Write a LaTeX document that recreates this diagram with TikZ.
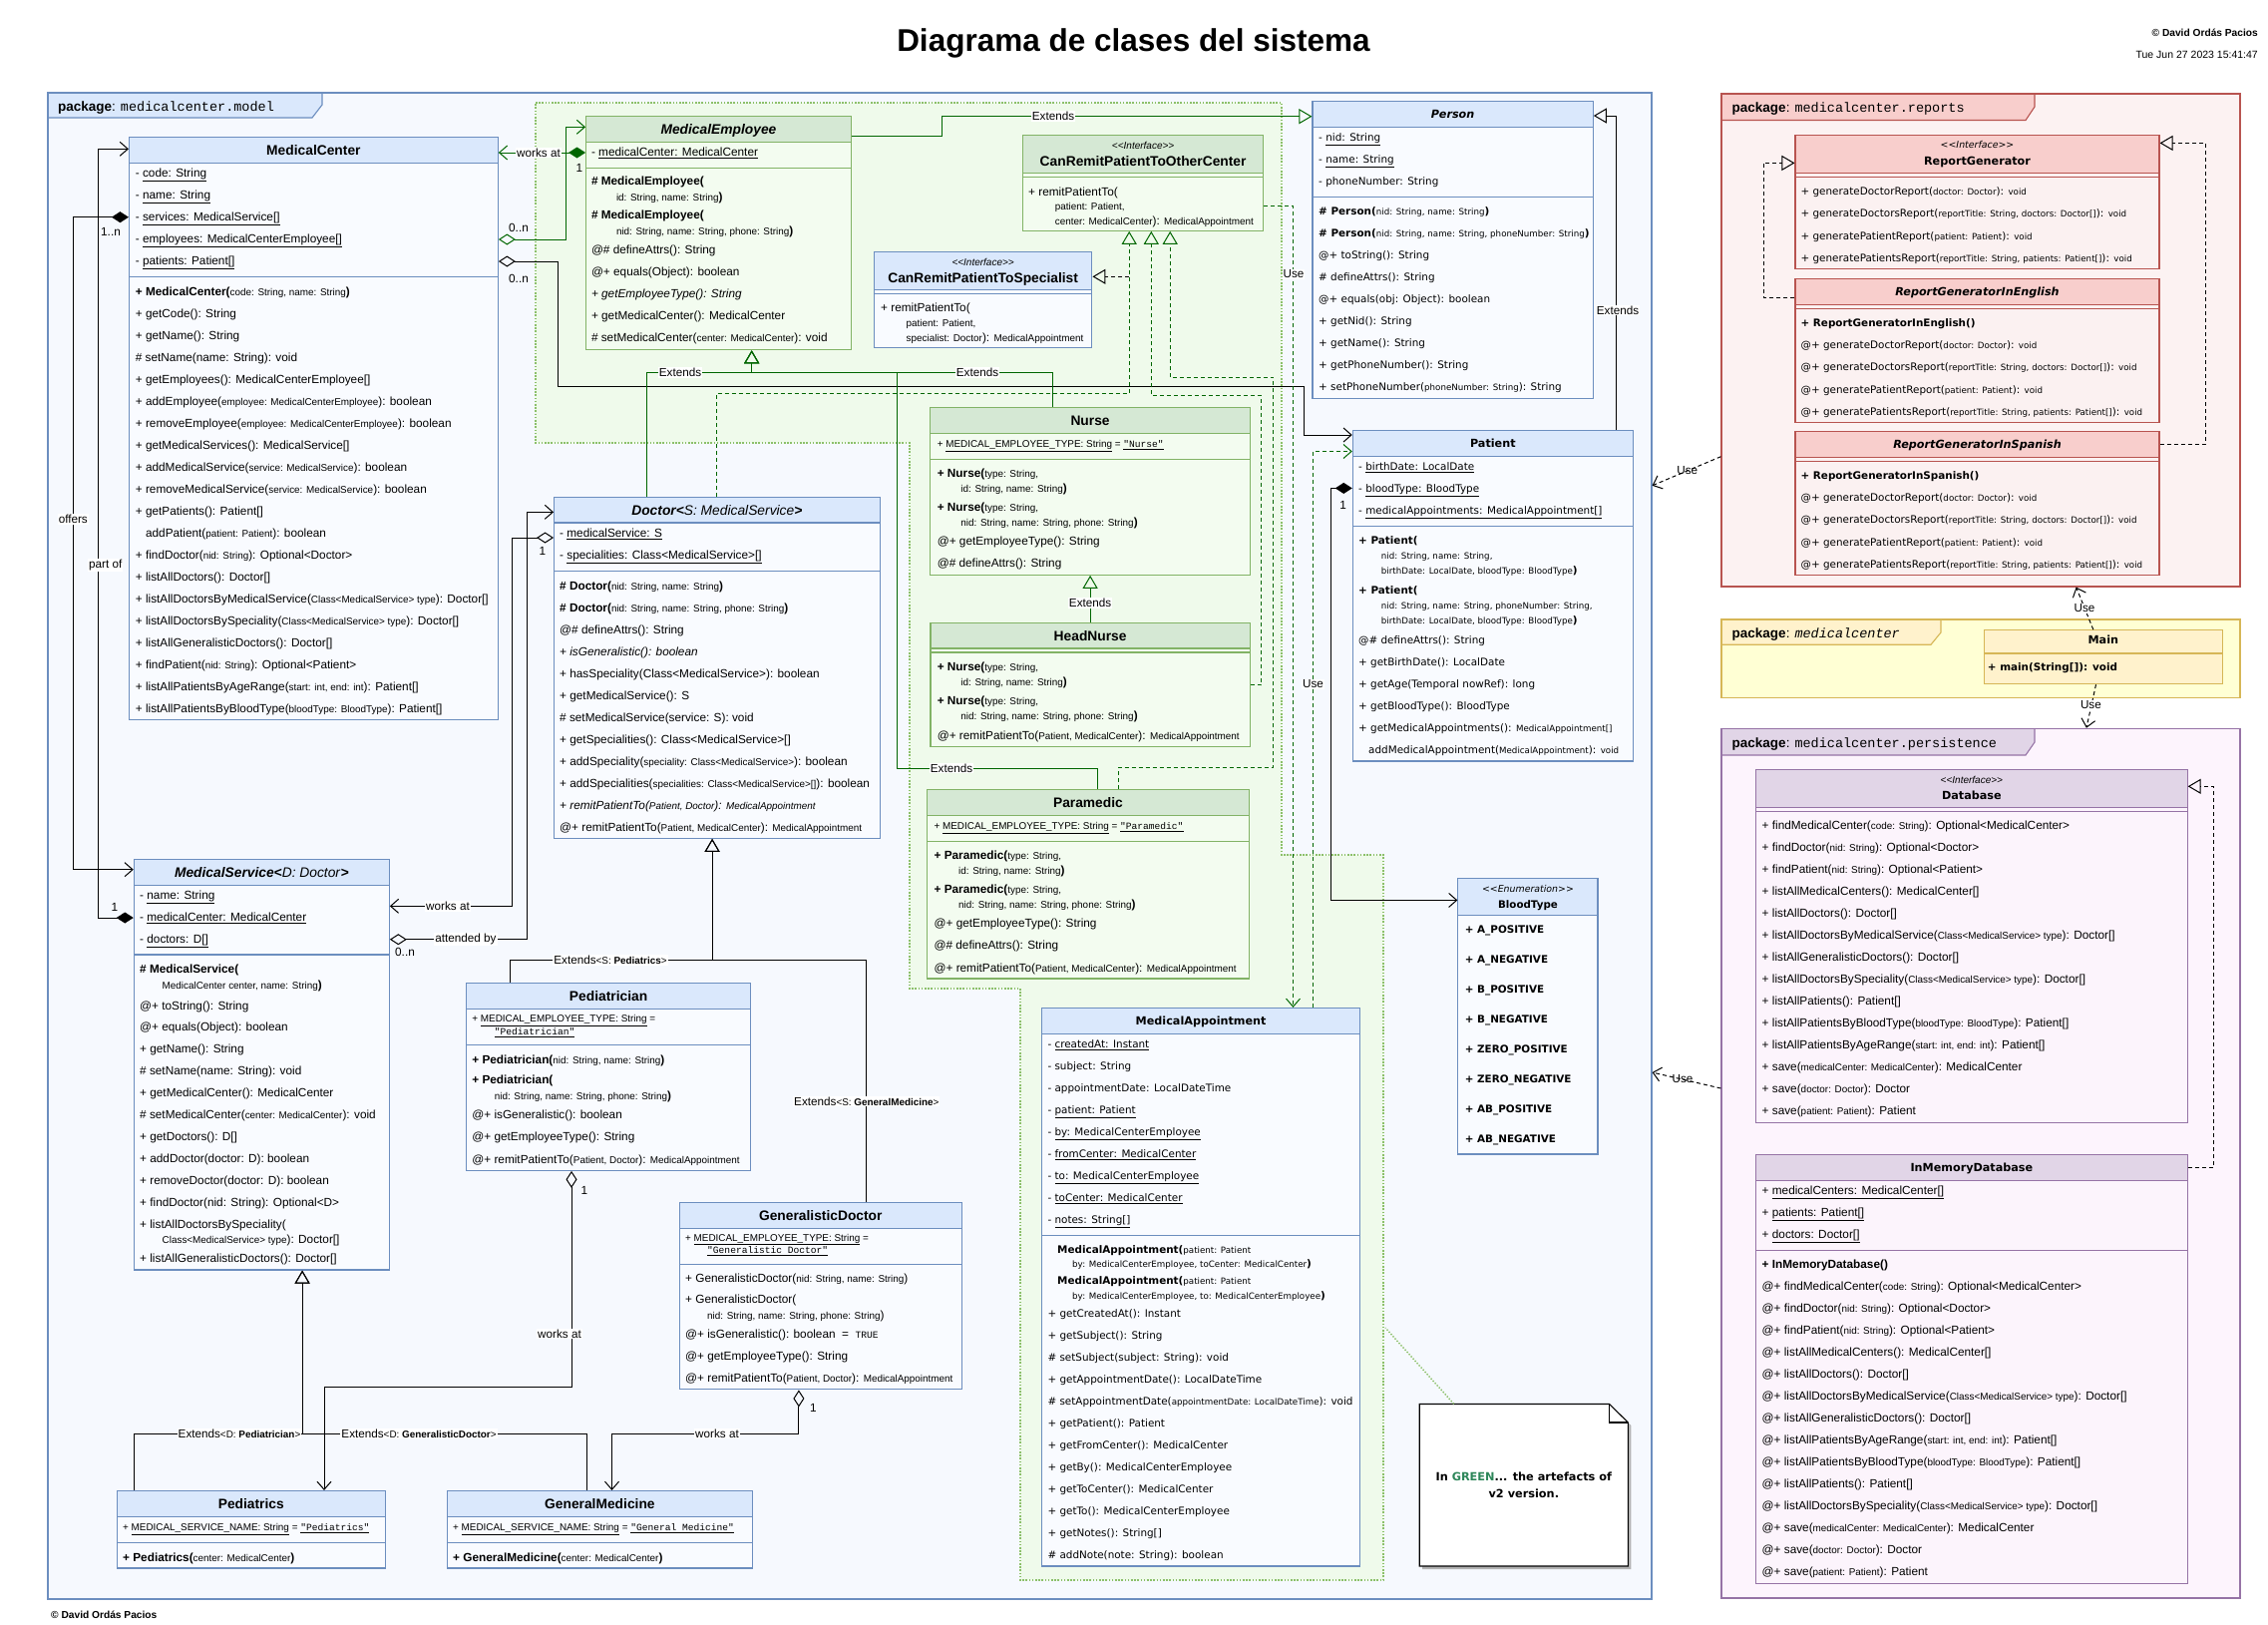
\documentclass[tikz,border=0pt]{standalone}
\usepackage{fontspec}
\setmainfont{Liberation Sans}
\setmonofont{Liberation Mono}
\newfontfamily\vfont{DejaVu Sans}
\usetikzlibrary{arrows.meta,fit}
\definecolor{bHead}{HTML}{DAE8FC}
\definecolor{bBody}{HTML}{F9FBFF}
\definecolor{bLine}{HTML}{6C8EBF}
\definecolor{gHead}{HTML}{D5E8D4}
\definecolor{gBody}{HTML}{F3FCF0}
\definecolor{gLine}{HTML}{82B366}
\definecolor{gArea}{HTML}{EFFAEB}
\definecolor{gDot}{HTML}{8CC06A}
\definecolor{rHead}{HTML}{F8CECC}
\definecolor{rBody}{HTML}{FBF1F1}
\definecolor{rLine}{HTML}{B85450}
\definecolor{rArea}{HTML}{FCF2F2}
\definecolor{yHead}{HTML}{FFF2CC}
\definecolor{yBody}{HTML}{FFF2CC}
\definecolor{yLine}{HTML}{D6B656}
\definecolor{yArea}{HTML}{FFFFD4}
\definecolor{pHead}{HTML}{E1D5E7}
\definecolor{pBody}{HTML}{FCF4FC}
\definecolor{pLine}{HTML}{9673A6}
\definecolor{pArea}{HTML}{FDF4FD}
\definecolor{mArea}{HTML}{F6F9FE}
\definecolor{dkg}{HTML}{006600}
\definecolor{noteg}{HTML}{2D8659}
\newcommand\sm[1]{{\fontsize{9.9}{11}\selectfont #1}}
\newcommand\sv[1]{{\fontsize{8.7}{10}\selectfont #1}}
\newcommand\mono[1]{{\fontsize{9.6}{11}\selectfont\ttfamily #1}}
\newcommand\lt{<{}<}
\newcommand\gt{>{}>}
\newcommand\rows[4][rw]{\foreach \yy/\txt [count=\i] in {#4}{\node[#1] (#2-\i) at (#3,\yy+4) {\txt};}}
\newcommand\srows[6][rw]{\foreach \txt [count=\i] in {#6}{\node[#1] (#2-\i) at (#3,{#4+#5*(\i-1)+4}) {\txt};}}
\newcommand\cls[7]{%
  \fill[#2Body] (#3,#4) rectangle (#5,#6);
  \fill[#2Head] (#3,#4) rectangle (#5,#7);
  \draw[#2Line,line width=1.1pt] (#3,#7) -- (#5,#7);
  \node[fit={(#3,#4) (#5,#6)},inner sep=0pt,draw=#2Line,line width=1.1pt] (#1) {};}
\newcommand\csep[3]{\draw[#2Line,line width=1.1pt] (#1.west |- 0,#3) -- (#1.east |- 0,#3);}
\begin{document}
\begin{tikzpicture}[x=1pt,y=-1pt,
  rw/.style={anchor=base west,inner sep=0pt,font=\fontsize{11.8}{14}\selectfont},
  rv/.style={anchor=base west,inner sep=0pt,font=\vfont\fontsize{10.4}{12}\selectfont},
  tt/.style={anchor=base,inner sep=0pt,font=\bfseries\fontsize{13.8}{16}\selectfont},
  ttv/.style={anchor=base,inner sep=0pt,font=\vfont\bfseries\fontsize{11.2}{13}\selectfont},
  st/.style={anchor=base,inner sep=0pt,font=\itshape\fontsize{10}{12}\selectfont},
  stv/.style={anchor=base,inner sep=0pt,font=\vfont\itshape\fontsize{9.4}{11}\selectfont},
  pk/.style={anchor=base west,inner sep=0pt,font=\fontsize{13.5}{15}\selectfont},
  lbl/.style={fill=white,inner sep=1pt,font=\fontsize{11.7}{13}\selectfont},
  ml/.style={inner sep=0pt,font=\fontsize{11.8}{13}\selectfont},
  bcn/.style={draw=black,line width=1pt},
  gcn/.style={draw=dkg,line width=1pt},
  dsh/.style={dash pattern=on 4pt off 3pt},
  opn/.style={-{Straight Barb[length=8pt,width=14pt]}},
  tri/.style={-{Triangle[open,length=13pt,width=15pt]}},
  cmpo/.style={{Diamond[length=17pt,width=11pt]}-{Straight Barb[length=8pt,width=14pt]}},
  agro/.style={{Diamond[open,length=17pt,width=11pt]}-{Straight Barb[length=8pt,width=14pt]}}]
\useasboundingbox (0,0) rectangle (2274,1628);
\fill[white] (0,0) rectangle (2274,1628);
% ---------------- title
\node[anchor=base,inner sep=0pt,font=\bfseries\fontsize{31.5}{36}\selectfont] (title) at (1136.5,51) {Diagrama de clases del sistema};
\node[anchor=base east,inner sep=0pt,font=\bfseries\fontsize{10.2}{12}\selectfont] (copyA) at (2264,36) {© David Ordás Pacios};
\node[anchor=base east,inner sep=0pt,font=\fontsize{10.5}{12}\selectfont] (date) at (2264,58) {Tue Jun 27 2023 15:41:47};
\node[anchor=base west,inner sep=0pt,font=\bfseries\fontsize{10.2}{12}\selectfont] (copyB) at (51,1622.5) {© David Ordás Pacios};
% ---------------- packages
\fill[mArea] (48,93) rectangle (1656,1603);
\fill[bHead] (48,93) -- (323,93) -- (323,105) -- (313,118) -- (48,118) -- cycle;
\draw[bLine,line width=1.1pt] (48,118) -- (313,118) -- (323,105) -- (323,93);
\node[fit={(48,93) (1656,1603)},inner sep=0pt,draw=bLine,line width=1.1pt] (pmodel) {};
\node[pk] (pmodel-t) at (58,111.5) {\textbf{package}: \texttt{medicalcenter.model}};
\fill[gArea] (537,103) -- (1285,103) -- (1285,857) -- (1387,857) -- (1387,1584) -- (1023,1584) -- (1023,991) -- (912,991) -- (912,444) -- (537,444) -- cycle;
\draw[gDot,line width=1.6pt,dash pattern=on 1.6pt off 1.6pt] (537,103) -- (1285,103) -- (1285,857) -- (1387,857) -- (1387,1584) -- (1023,1584) -- (1023,991) -- (912,991) -- (912,444) -- (537,444) -- cycle;
\fill[rArea] (1726,94) rectangle (2246,588);
\fill[rHead] (1726,94) -- (2040,94) -- (2040,107) -- (2031,120.5) -- (1726,120.5) -- cycle;
\draw[rLine,line width=1.1pt] (1726,120.5) -- (2031,120.5) -- (2040,107) -- (2040,94);
\node[fit={(1726,94) (2246,588)},inner sep=0pt,draw=rLine,line width=1.1pt] (prep) {};
\node[pk] (prep-t) at (1736.5,112) {\textbf{package}: \texttt{medicalcenter.reports}};
\fill[yArea] (1726,621) rectangle (2246,699.3);
\fill[yHead] (1726,621) -- (1946,621) -- (1946,634) -- (1936,646.2) -- (1726,646.2) -- cycle;
\draw[yLine,line width=1.1pt] (1726,646.2) -- (1936,646.2) -- (1946,634) -- (1946,621);
\node[fit={(1726,621) (2246,699.3)},inner sep=0pt,draw=yLine,line width=1.1pt] (pmain) {};
\node[pk] (pmain-t) at (1736.5,639.5) {\textbf{package}: \texttt{\textit{medicalcenter}}};
\fill[pArea] (1726,730.3) rectangle (2246,1602);
\fill[pHead] (1726,730.3) -- (2040,730.3) -- (2040,744) -- (2031,757) -- (1726,757) -- cycle;
\draw[pLine,line width=1.1pt] (1726,757) -- (2031,757) -- (2040,744) -- (2040,730.3);
\node[fit={(1726,730.3) (2246,1602)},inner sep=0pt,draw=pLine,line width=1.1pt] (ppers) {};
\node[pk] (ppers-t) at (1736.5,749.7) {\textbf{package}: \texttt{medicalcenter.persistence}};
% ---------------- MedicalCenter
\cls{mc}{b}{129.5}{137.5}{499.3}{721.3}{163.3}
\csep{mc}{b}{277.3}
\node[tt] (mc-t) at (mc.north |- 0,155) {MedicalCenter};
\srows{mc-a}{135.7}{173.7}{22}{{- \underline{code: String}},{- \underline{name: String}},{- \underline{services: MedicalService[]}},{- \underline{employees: MedicalCenterEmployee[]}},{- \underline{patients: Patient[]}}}
\srows{mc-m}{135.7}{292}{22}{{\textbf{+ MedicalCenter(}\sm{code: String, name: String}\textbf{)}},{+ getCode(): String},{+ getName(): String},{\# setName(name: String): void},{+ getEmployees(): MedicalCenterEmployee[]},{+ addEmployee(\sm{employee: MedicalCenterEmployee}): boolean},{+ removeEmployee(\sm{employee: MedicalCenterEmployee}): boolean},{+ getMedicalServices(): MedicalService[]},{+ addMedicalService(\sm{service: MedicalService}): boolean},{+ removeMedicalService(\sm{service: MedicalService}): boolean},{+ getPatients(): Patient[]},{\phantom{+ }addPatient(\sm{patient: Patient}): boolean},{+ findDoctor(\sm{nid: String}): Optional<Doctor>},{+ listAllDoctors(): Doctor[]},{+ listAllDoctorsByMedicalService(\sm{Class<MedicalService> type}): Doctor[]},{+ listAllDoctorsBySpeciality(\sm{Class<MedicalService> type}): Doctor[]},{+ listAllGeneralisticDoctors(): Doctor[]},{+ findPatient(\sm{nid: String}): Optional<Patient>},{+ listAllPatientsByAgeRange(\sm{start: int, end: int}): Patient[]},{+ listAllPatientsByBloodType(\sm{bloodType: BloodType}): Patient[]}}
% ---------------- MedicalService
\cls{ms}{b}{134.3}{861.7}{390.3}{1273}{887.7}
\csep{ms}{b}{957}
\node[tt] (ms-t) at (ms.north |- 0,879.7) {\textit{MedicalService<}\textmd{\textit{D: Doctor}}\textit{>}};
\srows{ms-a}{140}{897.7}{22}{{- \underline{name: String}},{- \underline{medicalCenter: MedicalCenter}},{- \underline{doctors: D[]}}}
\rows{ms-c}{140}{971.7/{\textbf{\# MedicalService(}},1227/{+ listAllDoctorsBySpeciality(},1261.4/{+ listAllGeneralisticDoctors(): Doctor[]}}
\rows{ms-p}{162.5}{987.3/{\sm{MedicalCenter center, name: String}\textbf{)}},1242.5/{\sm{Class<MedicalService> type}): Doctor[]}}
\srows{ms-m}{140}{1008}{21.93}{{@+ toString(): String},{@+ equals(Object): boolean},{+ getName(): String},{\# setName(name: String): void},{+ getMedicalCenter(): MedicalCenter},{\# setMedicalCenter(\sm{center: MedicalCenter}): void},{+ getDoctors(): D[]},{+ addDoctor(doctor: D): boolean},{+ removeDoctor(doctor: D): boolean},{+ findDoctor(nid: String): Optional<D>}}
% ---------------- MedicalEmployee
\cls{me}{g}{587.6}{116.7}{853.3}{350.7}{142.3}
\csep{me}{g}{168.3}
\node[tt] (me-t) at (me.north |- 0,134.5) {\textit{MedicalEmployee}};
\rows{me-a}{592.8}{152.7/{- \underline{medicalCenter: MedicalCenter}}}
\rows{me-c}{592.8}{181.7/{\textbf{\# MedicalEmployee(}},215.7/{\textbf{\# MedicalEmployee(}}}
\rows{me-p}{617.8}{197.3/{\sm{id: String, name: String}\textbf{)}},231.7/{\sm{nid: String, name: String, phone: String}\textbf{)}}}
\srows{me-m}{592.8}{250.7}{22}{{@\# defineAttrs(): String},{@+ equals(Object): boolean},{\textit{+ getEmployeeType(): String}},{+ getMedicalCenter(): MedicalCenter},{\# setMedicalCenter(\sm{center: MedicalCenter}): void}}
% ---------------- CanRemitPatientToOtherCenter
\cls{oth}{g}{1025.5}{135.7}{1266.7}{231.3}{173.3}
\csep{oth}{g}{177.3}
\node[st] (oth-s) at (oth.north |- 0,149.3) {\lt Interface\gt};
\node[tt] (oth-t) at (oth.north |- 0,166) {CanRemitPatientToOtherCenter};
\rows{oth-m}{1031}{192/{+ remitPatientTo(}}
\rows{oth-p}{1057.6}{206.7/{\sm{patient: Patient,}},221.7/{\sm{center: MedicalCenter}): \sm{MedicalAppointment}}}
% ---------------- CanRemitPatientToSpecialist
\cls{spec}{b}{876.4}{252.7}{1094.9}{348.3}{290.7}
\csep{spec}{b}{294.3}
\node[st] (spec-s) at (spec.north |- 0,266) {\lt Interface\gt};
\node[tt] (spec-t) at (spec.north |- 0,283) {CanRemitPatientToSpecialist};
\rows{spec-m}{883}{308.3/{+ remitPatientTo(}}
\rows{spec-p}{908.5}{323.7/{\sm{patient: Patient,}},338.7/{\sm{specialist: Doctor}): \sm{MedicalAppointment}}}
% ---------------- Doctor
\cls{doc}{b}{555.6}{498.7}{882.1}{840.3}{524}
\csep{doc}{b}{572.3}
\node[tt] (doc-t) at (doc.north |- 0,516.3) {\textit{Doctor<}\textmd{\textit{S: MedicalService}}\textit{>}};
\srows{doc-a}{561}{534.7}{22}{{- \underline{medicalService: S}},{- \underline{specialities: Class<MedicalService>[]}}}
\srows{doc-m}{561}{587.3}{22}{{\textbf{\# Doctor(}\sm{nid: String, name: String}\textbf{)}},{\textbf{\# Doctor(}\sm{nid: String, name: String, phone: String}\textbf{)}},{@\# defineAttrs(): String},{\textit{+ isGeneralistic(): boolean}},{+ hasSpeciality(Class<MedicalService>): boolean},{+ getMedicalService(): S},{\# setMedicalService(service: S): void},{+ getSpecialities(): Class<MedicalService>[]},{+ addSpeciality(\sm{speciality: Class<MedicalService>}): boolean},{+ addSpecialities(\sm{specialities: Class<MedicalService>[]}): boolean},{\textit{+ remitPatientTo(\sm{Patient, Doctor}): \sm{MedicalAppointment}}},{@+ remitPatientTo(\sm{Patient, MedicalCenter}): \sm{MedicalAppointment}}}
% ---------------- Nurse
\cls{nurse}{g}{932.6}{408.3}{1253.5}{576.3}{434.3}
\csep{nurse}{g}{460.3}
\node[tt] (nurse-t) at (nurse.north |- 0,426) {Nurse};
\rows{nurse-a}{939.6}{444.7/{\sm{+ \underline{MEDICAL\_EMPLOYEE\_TYPE: String} = }\underline{\mono{"Nurse"}}}}
\rows{nurse-c}{939.6}{474/{\textbf{+ Nurse(}\sm{type: String,}},508.3/{\textbf{+ Nurse(}\sm{type: String,}},542.7/{@+ getEmployeeType(): String},564.7/{@\# defineAttrs(): String}}
\rows{nurse-p}{963.2}{489.3/{\sm{id: String, name: String}\textbf{)}},523.7/{\sm{nid: String, name: String, phone: String}\textbf{)}}}
% ---------------- HeadNurse
\cls{hn}{g}{933}{624.7}{1253.3}{748.3}{650}
\csep{hn}{g}{654}
\node[tt] (hn-t) at (hn.north |- 0,642) {HeadNurse};
\rows{hn-c}{939.6}{668.3/{\textbf{+ Nurse(}\sm{type: String,}},702.3/{\textbf{+ Nurse(}\sm{type: String,}},737.3/{@+ remitPatientTo(\sm{Patient, MedicalCenter}): \sm{MedicalAppointment}}}
\rows{hn-p}{963.2}{683.3/{\sm{id: String, name: String}\textbf{)}},717.7/{\sm{nid: String, name: String, phone: String}\textbf{)}}}
% ---------------- Paramedic
\cls{para}{g}{929.8}{791.7}{1252.1}{981}{817.3}
\csep{para}{g}{843.3}
\node[tt] (para-t) at (para.north |- 0,809) {Paramedic};
\rows{para-a}{936.4}{827.7/{\sm{+ \underline{MEDICAL\_EMPLOYEE\_TYPE: String} = }\underline{\mono{"Paramedic"}}}}
\rows{para-c}{936.4}{857/{\textbf{+ Paramedic(}\sm{type: String,}},891/{\textbf{+ Paramedic(}\sm{type: String,}},925.7/{@+ getEmployeeType(): String},947.7/{@\# defineAttrs(): String},970/{@+ remitPatientTo(\sm{Patient, MedicalCenter}): \sm{MedicalAppointment}}}
\rows{para-p}{961}{872.3/{\sm{id: String, name: String}\textbf{)}},906.3/{\sm{nid: String, name: String, phone: String}\textbf{)}}}
% ---------------- Pediatrician
\cls{ped}{b}{467.6}{985.5}{752.6}{1173.3}{1011.2}
\csep{ped}{b}{1047.6}
\node[tt] (ped-t) at (ped.north |- 0,1003) {Pediatrician};
\rows{ped-a}{473.2}{1020.6/{\sm{+ \underline{MEDICAL\_EMPLOYEE\_TYPE: String} =}}}
\rows{ped-b}{495.6}{1033.3/{\underline{\mono{"Pediatrician"}}}}
\rows{ped-c}{473.2}{1062.2/{\textbf{+ Pediatrician(}\sm{nid: String, name: String}\textbf{)}},1082.7/{\textbf{+ Pediatrician(}},1117.8/{@+ isGeneralistic(): boolean},1139.8/{@+ getEmployeeType(): String},1162.2/{@+ remitPatientTo(\sm{Patient, Doctor}): \sm{MedicalAppointment}}}
\rows{ped-p}{495.6}{1098.6/{\sm{nid: String, name: String, phone: String}\textbf{)}}}
% ---------------- GeneralisticDoctor
\cls{gd}{b}{681.4}{1205.5}{964.2}{1392.9}{1231.2}
\csep{gd}{b}{1267.1}
\node[tt] (gd-t) at (gd.north |- 0,1223) {GeneralisticDoctor};
\rows{gd-a}{687}{1240.2/{\sm{+ \underline{MEDICAL\_EMPLOYEE\_TYPE: String} =}}}
\rows{gd-b}{709}{1252.9/{\underline{\mono{"Generalistic Doctor"}}}}
\rows{gd-c}{687}{1281.8/{+ GeneralisticDoctor(\sm{nid: String, name: String})},1302.2/{+ GeneralisticDoctor(},1337.8/{@+ isGeneralistic(): boolean ~=~ \mono{TRUE}},1359.4/{@+ getEmployeeType(): String},1381.8/{@+ remitPatientTo(\sm{Patient, Doctor}): \sm{MedicalAppointment}}}
\rows{gd-p}{709}{1318.2/{\sm{nid: String, name: String, phone: String})}}
% ---------------- Pediatrics / GeneralMedicine
\cls{peds}{b}{117.4}{1494.5}{386.2}{1572}{1520.2}
\csep{peds}{b}{1546.3}
\node[tt] (peds-t) at (peds.north |- 0,1512) {Pediatrics};
\rows{peds-a}{123}{1530.4/{\sm{+ \underline{MEDICAL\_SERVICE\_NAME: String} = }\underline{\mono{"Pediatrics"}}},1561/{\textbf{+ Pediatrics(}\sm{center: MedicalCenter}\textbf{)}}}
\cls{gm}{b}{448.5}{1494.5}{754.3}{1572}{1520.2}
\csep{gm}{b}{1546.3}
\node[tt] (gm-t) at (gm.north |- 0,1512) {GeneralMedicine};
\rows{gm-a}{454}{1530.4/{\sm{+ \underline{MEDICAL\_SERVICE\_NAME: String} = }\underline{\mono{"General Medicine"}}},1561/{\textbf{+ GeneralMedicine(}\sm{center: MedicalCenter}\textbf{)}}}
% ---------------- Person
\cls{per}{b}{1316}{101.7}{1597.3}{399.2}{127.7}
\csep{per}{b}{197.1}
\node[ttv] (per-t) at (per.north |- 0,118.1) {\textit{Person}};
\srows[rv]{per-a}{1322}{137.7}{21.9}{{- \underline{nid: String}},{- \underline{name: String}},{- phoneNumber: String}}
\srows[rv]{per-m}{1322}{211.9}{21.95}{{\textbf{\# Person(}\sv{nid: String, name: String}\textbf{)}},{\textbf{\# Person(}\sv{nid: String, name: String, phoneNumber: String}\textbf{)}},{@+ toString(): String},{\# defineAttrs(): String},{@+ equals(obj: Object): boolean},{+ getNid(): String},{+ getName(): String},{+ getPhoneNumber(): String},{+ setPhoneNumber(\sv{phoneNumber: String}): String}}
% ---------------- Patient
\cls{pat}{b}{1356.3}{431.7}{1637.3}{763}{457.7}
\csep{pat}{b}{527.5}
\node[ttv] (pat-t) at (pat.north |- 0,448.1) {Patient};
\srows[rv]{pat-a}{1362}{467.3}{22.1}{{- \underline{birthDate: LocalDate}},{- \underline{bloodType: BloodType}},{- \underline{medicalAppointments: MedicalAppointment[]}}}
\rows[rv]{pat-c}{1362}{541/{\textbf{+ Patient(}},591.3/{\textbf{+ Patient(}}}
\rows[rv]{pat-p}{1384.7}{556.6/{\sv{nid: String, name: String,}},571.4/{\sv{birthDate: LocalDate, bloodType: BloodType}\textbf{)}},606.5/{\sv{nid: String, name: String, phoneNumber: String,}},621.7/{\sv{birthDate: LocalDate, bloodType: BloodType}\textbf{)}}}
\srows[rv]{pat-m}{1362}{641.2}{22}{{@\# defineAttrs(): String},{+ getBirthDate(): LocalDate},{+ getAge(Temporal nowRef): long},{+ getBloodType(): BloodType},{+ getMedicalAppointments(): \sv{MedicalAppointment[]}}}
\rows[rv]{pat-n}{1372}{751.3/{addMedicalAppointment(\sv{MedicalAppointment}): \sv{void}}}
% ---------------- MedicalAppointment
\cls{ma}{b}{1044.8}{1010.4}{1363.4}{1570}{1036.4}
\csep{ma}{b}{1238.5}
\node[ttv] (ma-t) at (ma.north |- 0,1027.2) {MedicalAppointment};
\srows[rv]{ma-a}{1050.3}{1046.7}{22}{{- \underline{createdAt: Instant}},{- subject: String},{- appointmentDate: LocalDateTime},{- \underline{patient: Patient}},{- \underline{by: MedicalCenterEmployee}},{- \underline{fromCenter: MedicalCenter}},{- \underline{to: MedicalCenterEmployee}},{- \underline{toCenter: MedicalCenter}},{- \underline{notes: String[]}}}
\rows[rv]{ma-c}{1060}{1252/{\textbf{MedicalAppointment(}\sv{patient: Patient}},1283.6/{\textbf{MedicalAppointment(}\sv{patient: Patient}}}
\rows[rv]{ma-p}{1075}{1266.4/{\sv{by: MedicalCenterEmployee, toCenter: MedicalCenter}\textbf{)}},1298/{\sv{by: MedicalCenterEmployee, to: MedicalCenterEmployee}\textbf{)}}}
\srows[rv]{ma-m}{1050.3}{1316.7}{21.96}{{+ getCreatedAt(): Instant},{+ getSubject(): String},{\# setSubject(subject: String): void},{+ getAppointmentDate(): LocalDateTime},{\# setAppointmentDate(\sv{appointmentDate: LocalDateTime}): void},{+ getPatient(): Patient},{+ getFromCenter(): MedicalCenter},{+ getBy(): MedicalCenterEmployee},{+ getToCenter(): MedicalCenter},{+ getTo(): MedicalCenterEmployee},{+ getNotes(): String[]},{\# addNote(note: String): boolean}}
% ---------------- BloodType
\cls{bt}{b}{1461.9}{880.5}{1602}{1157}{917.7}
\node[stv] (bt-s) at (bt.north |- 0,894.6) {\lt Enumeration\gt};
\node[ttv,font=\vfont\bfseries\fontsize{10.3}{12}\selectfont] (bt-t) at (bt.north |- 0,910.4) {BloodType};
\srows[rv]{bt-v}{1468.6}{931.2}{30}{{\textbf{+ A\_POSITIVE}},{\textbf{+ A\_NEGATIVE}},{\textbf{+ B\_POSITIVE}},{\textbf{+ B\_NEGATIVE}},{\textbf{+ ZERO\_POSITIVE}},{\textbf{+ ZERO\_NEGATIVE}},{\textbf{+ AB\_POSITIVE}},{\textbf{+ AB\_NEGATIVE}}}
% ---------------- Report generators
\cls{rg}{r}{1800}{135.6}{2165}{269.1}{173.2}
\csep{rg}{r}{177.2}
\node[stv] (rg-s) at (rg.north |- 0,148.8) {\lt Interface\gt};
\node[ttv] (rg-t) at (rg.north |- 0,165.1) {ReportGenerator};
\srows[rv]{rg-m}{1805.4}{191.9}{22.05}{{+ generateDoctorReport(\sv{doctor: Doctor}): \sv{void}},{+ generateDoctorsReport(\sv{reportTitle: String, doctors: Doctor[]}): \sv{void}},{+ generatePatientReport(\sv{patient: Patient}): \sv{void}},{+ generatePatientsReport(\sv{reportTitle: String, patients: Patient[]}): \sv{void}}}
\cls{rge}{r}{1800}{279.7}{2165}{423.8}{305.8}
\csep{rge}{r}{309.9}
\node[ttv] (rge-t) at (rge.north |- 0,296.5) {\textit{ReportGeneratorInEnglish}};
\srows[rv]{rge-m}{1805.4}{323.4}{22.2}{{\textbf{+ ReportGeneratorInEnglish()}},{@+ generateDoctorReport(\sv{doctor: Doctor}): \sv{void}},{@+ generateDoctorsReport(\sv{reportTitle: String, doctors: Doctor[]}): \sv{void}},{@+ generatePatientReport(\sv{patient: Patient}): \sv{void}},{@+ generatePatientsReport(\sv{reportTitle: String, patients: Patient[]}): \sv{void}}}
\cls{rgs}{r}{1800}{432.8}{2165}{576.4}{458.5}
\csep{rgs}{r}{462.6}
\node[ttv] (rgs-t) at (rgs.north |- 0,449.2) {\textit{ReportGeneratorInSpanish}};
\srows[rv]{rgs-m}{1805.4}{476.4}{22.25}{{\textbf{+ ReportGeneratorInSpanish()}},{@+ generateDoctorReport(\sv{doctor: Doctor}): \sv{void}},{@+ generateDoctorsReport(\sv{reportTitle: String, doctors: Doctor[]}): \sv{void}},{@+ generatePatientReport(\sv{patient: Patient}): \sv{void}},{@+ generatePatientsReport(\sv{reportTitle: String, patients: Patient[]}): \sv{void}}}
% ---------------- Main
\cls{main}{y}{1989.3}{631.7}{2228.3}{685.7}{655}
\node[ttv] (main-t) at (main.north |- 0,645.9) {Main};
\rows[rv]{main-m}{1992.7}{668.7/{\textbf{+ main(String[]): void}}}
% ---------------- Database
\cls{db}{p}{1760.6}{771.7}{2193.1}{1125.3}{809.3}
\csep{db}{p}{813.3}
\node[st] (db-s) at (db.north |- 0,785.3) {\lt Interface\gt};
\node[ttv] (db-t) at (db.north |- 0,801.2) {Database};
\srows{db-m}{1766.5}{827.7}{22}{{+ findMedicalCenter(\sm{code: String}): Optional<MedicalCenter>},{+ findDoctor(\sm{nid: String}): Optional<Doctor>},{+ findPatient(\sm{nid: String}): Optional<Patient>},{+ listAllMedicalCenters(): MedicalCenter[]},{+ listAllDoctors(): Doctor[]},{+ listAllDoctorsByMedicalService(\sm{Class<MedicalService> type}): Doctor[]},{+ listAllGeneralisticDoctors(): Doctor[]},{+ listAllDoctorsBySpeciality(\sm{Class<MedicalService> type}): Doctor[]},{+ listAllPatients(): Patient[]},{+ listAllPatientsByBloodType(\sm{bloodType: BloodType}): Patient[]},{+ listAllPatientsByAgeRange(\sm{start: int, end: int}): Patient[]},{+ save(\sm{medicalCenter: MedicalCenter}): MedicalCenter},{+ save(\sm{doctor: Doctor}): Doctor},{+ save(\sm{patient: Patient}): Patient}}
% ---------------- InMemoryDatabase
\cls{imd}{p}{1760.6}{1157.7}{2193.1}{1587.3}{1183.3}
\csep{imd}{p}{1253.3}
\node[ttv] (imd-t) at (imd.north |- 0,1174.2) {InMemoryDatabase};
\srows{imd-a}{1766.5}{1193.3}{22}{{+ \underline{medicalCenters: MedicalCenter[]}},{+ \underline{patients: Patient[]}},{+ \underline{doctors: Doctor[]}}}
\srows{imd-m}{1766.5}{1267.3}{22}{{\textbf{+ InMemoryDatabase()}},{@+ findMedicalCenter(\sm{code: String}): Optional<MedicalCenter>},{@+ findDoctor(\sm{nid: String}): Optional<Doctor>},{@+ findPatient(\sm{nid: String}): Optional<Patient>},{@+ listAllMedicalCenters(): MedicalCenter[]},{@+ listAllDoctors(): Doctor[]},{@+ listAllDoctorsByMedicalService(\sm{Class<MedicalService> type}): Doctor[]},{@+ listAllGeneralisticDoctors(): Doctor[]},{@+ listAllPatientsByAgeRange(\sm{start: int, end: int}): Patient[]},{@+ listAllPatientsByBloodType(\sm{bloodType: BloodType}): Patient[]},{@+ listAllPatients(): Patient[]},{@+ listAllDoctorsBySpeciality(\sm{Class<MedicalService> type}): Doctor[]},{@+ save(\sm{medicalCenter: MedicalCenter}): MedicalCenter},{@+ save(\sm{doctor: Doctor}): Doctor},{@+ save(\sm{patient: Patient}): Patient}}
% ---------------- note
\fill[black!30] (1426.2,1410.5) -- (1616.5,1410.5) -- (1635.4,1429) -- (1635.4,1573) -- (1426.2,1573) -- cycle;
\filldraw[fill=white,draw=black,line width=1.1pt] (1423.2,1407.5) -- (1613.5,1407.5) -- (1632.4,1426) -- (1632.4,1570) -- (1423.2,1570) -- cycle;
\draw[line width=1.1pt] (1613.5,1407.5) -- (1613.5,1426) -- (1632.4,1426);
\node[fit={(1423.2,1407.5) (1632.4,1570)},inner sep=0pt] (note) {};
\node[align=center,inner sep=0pt,font=\vfont\bfseries\fontsize{11.3}{17.3}\selectfont] (note-t) at (1527.8,1488.5) {In \textcolor{noteg}{GREEN}... the artefacts of\\v2 version.};
\draw[gDot,line width=1.4pt,dash pattern=on 1.4pt off 1.6pt] (note.north -| 1457.7,0) -- (1389,1331);
% ---------------- connectors
\draw[gcn,cmpo] (me.west |- 0,153) -- (mc.east |- 0,153);
\draw[gcn,agro] (mc.east |- 0,240) -- (567.3,240) -- (567.3,127.3) -- (me.west |- 0,127.3);
\draw[bcn,agro] (mc.east |- 0,262) -- (559.3,262) -- (559.3,387.5) -- (1307.5,387.5) -- (1307.5,436) -- (pat.west |- 0,436);
\draw[bcn,cmpo] (mc.west |- 0,217.7) -- (73.3,217.7) -- (73.3,871.7) -- (ms.west |- 0,871.7);
\draw[bcn,cmpo] (ms.west |- 0,920) -- (98.3,920) -- (98.3,149.3) -- (mc.west |- 0,149.3);
\draw[bcn,agro] (doc.west |- 0,539) -- (513.3,539) -- (513.3,908.3) -- (ms.east |- 0,908.3);
\draw[bcn,agro] (ms.east |- 0,941.7) -- (528.3,941.7) -- (528.3,513.3) -- (doc.west |- 0,513.3);
\draw[gcn,tri] (me.east |- 0,136.3) -- (944.3,136.3) -- (944.3,116.7) -- (per.west |- 0,116.7);
\draw[gcn,tri] (doc.north -| 648.5,0) -- (648.5,373.3) -- (753.7,373.3) -- (me.south -| 753.7,0);
\draw[gcn,tri] (nurse.north -| 1055.2,0) -- (1055.2,373.3) -- (753.7,373.3) -- (me.south -| 753.7,0);
\draw[gcn,tri] (para.north -| 1100.6,0) -- (1100.6,770) -- (899.6,770) -- (899.6,373.3) -- (753.7,373.3) -- (me.south -| 753.7,0);
\draw[gcn,tri] (hn.north -| 1093.1,0) -- (nurse.south -| 1093.1,0);
\draw[gcn,dsh,tri] (doc.north -| 718.8,0) -- (718.8,394) -- (1132.2,394) -- (oth.south -| 1132.2,0);
\coordinate (dspec) at (1132.2,277.3);
\draw[bcn,dsh,tri] (dspec) -- (spec.east |- dspec);
\draw[gcn,dsh,tri] (hn.east |- 0,686.8) -- (1264.8,686.8) -- (1264.8,396.8) -- (1154.3,396.8) -- (oth.south -| 1154.3,0);
\draw[gcn,dsh,tri] (para.north -| 1121.4,0) -- (1121.4,769.3) -- (1276.5,769.3) -- (1276.5,378) -- (1173.2,378) -- (oth.south -| 1173.2,0);
\draw[gcn,dsh,opn] (oth.east |- 0,206.5) -- (1296.5,206.5) -- (ma.north -| 1296.5,0);
\draw[gcn,dsh,opn] (ma.north -| 1316.5,0) -- (1316.5,452.5) -- (pat.west |- 0,452.5);
\draw[bcn,tri] (pat.north -| 1620.3,0) -- (1620.3,116) -- (per.east |- 0,116);
\draw[bcn,cmpo] (pat.west |- 0,489.4) -- (1334.3,489.4) -- (1334.3,902.4) -- (bt.west |- 0,902.4);
\draw[bcn,tri] (ped.north -| 511.3,0) -- (511.3,962.7) -- (714.1,962.7) -- (doc.south -| 714.1,0);
\draw[bcn,tri] (gd.north -| 868.8,0) -- (868.8,962.7) -- (714.1,962.7) -- (doc.south -| 714.1,0);
\draw[bcn,agro] (ped.south -| 573,0) -- (573,1390) -- (325,1390) -- (peds.north -| 325,0);
\draw[bcn,agro] (gd.south -| 800.9,0) -- (800.9,1437) -- (613.5,1437) -- (gm.north -| 613.5,0);
\draw[bcn,tri] (peds.north -| 134.2,0) -- (134.2,1437) -- (303.1,1437) -- (ms.south -| 303.1,0);
\draw[bcn,tri] (gm.north -| 588.2,0) -- (588.2,1437) -- (303.1,1437) -- (ms.south -| 303.1,0);
\draw[bcn,dsh,tri] (rge.west |- 0,298) -- (1768.2,298) -- (1768.2,163.4) -- (rg.west |- 0,163.4);
\draw[bcn,dsh,tri] (rgs.east |- 0,445) -- (2211.7,445) -- (2211.7,143.4) -- (rg.east |- 0,143.4);
\draw[bcn,dsh,opn] (main.north -| 2098.8,0) -- (prep.south -| 2081.6,0);
\draw[bcn,dsh,opn] (main.south -| 2101.5,0) -- (ppers.north -| 2091.9,0);
\draw[bcn,dsh,tri] (imd.east |- 0,1170) -- (2219.3,1170) -- (2219.3,788.3) -- (db.east |- 0,788.3);
\draw[bcn,dsh,opn] (prep.west |- 0,457.7) -- (pmodel.east |- 0,486.8);
\draw[bcn,dsh,opn] (ppers.west |- 0,1091) -- (pmodel.east |- 0,1075);
% ---------------- connector labels
\node[lbl] (l1) at (540,153) {works at};
\node[ml] (m1) at (581,168) {1};
\node[ml] (m2) at (520,228) {0..n};
\node[ml] (m3) at (520,279) {0..n};
\node[lbl] (l4) at (73.3,520.5) {offers};
\node[ml] (m4) at (111,232) {1..n};
\node[lbl] (l5) at (105.7,566.7) {part of};
\node[ml] (m5) at (115,909) {1};
\node[lbl] (l6) at (449,908.3) {works at};
\node[ml] (m6) at (544,552) {1};
\node[lbl] (l7) at (467,941.7) {attended by};
\node[ml] (m7) at (406,954) {0..n};
\node[lbl] (l8) at (1056,116.7) {Extends};
\node[lbl] (l9) at (682,373.3) {Extends};
\node[lbl] (l10) at (980,373.3) {Extends};
\node[lbl] (l11) at (954,770) {Extends};
\node[lbl] (l12) at (1093.1,604.7) {Extends};
\node[lbl] (l17) at (1297,275) {Use};
\node[lbl] (l18) at (1316.5,686) {Use};
\node[lbl] (l19) at (1622,311) {Extends};
\node[ml] (m20) at (1346.7,506) {1};
\node[lbl] (l21) at (612,962.7) {Extends\sm{<S: \textbf{Pediatrics}>}};
\node[lbl] (l22) at (868.8,1104) {Extends\sm{<S: \textbf{GeneralMedicine}>}};
\node[lbl] (l23) at (561,1337) {works at};
\node[ml] (m23) at (586,1193) {1};
\node[lbl] (l24) at (719,1437) {works at};
\node[ml] (m24) at (815.5,1411.6) {1};
\node[lbl] (l25) at (240,1437) {Extends\sm{<D: \textbf{Pediatrician}>}};
\node[lbl] (l26) at (420,1437) {Extends\sm{<D: \textbf{GeneralisticDoctor}>}};
\node[lbl] (l29) at (2090,610) {Use};
\node[lbl] (l30) at (2096.4,706.7) {Use};
\node[lbl,fill=none] (l32) at (1691.7,471.6) {Use};
\node[lbl,fill=none] (l33) at (1687,1082) {Use};
\end{tikzpicture}
\end{document}
